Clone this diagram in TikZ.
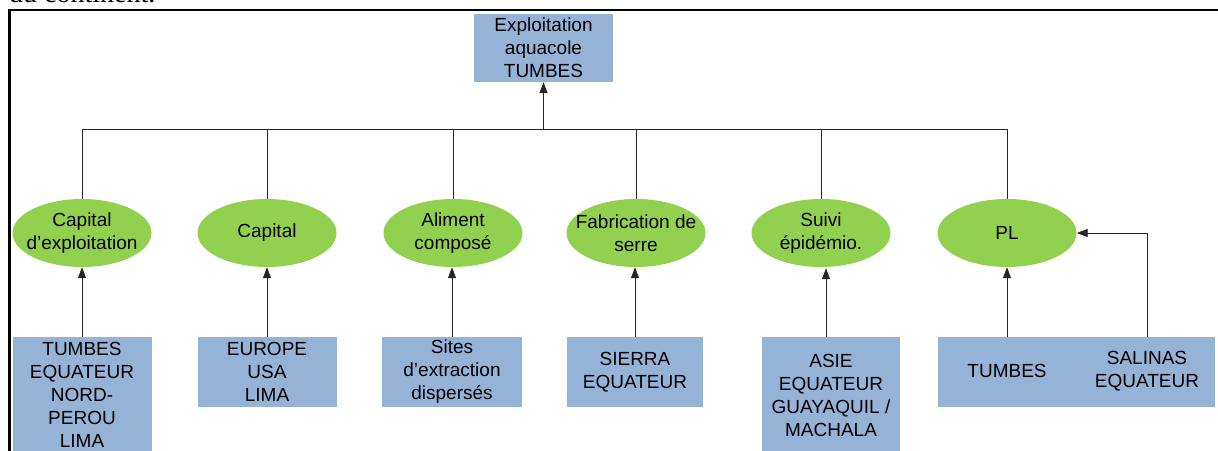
\documentclass[tikz,border=0pt]{standalone}
\usepackage{fontspec}
\setmainfont{Liberation Sans}
\newfontfamily\docserif{Liberation Serif}
\usetikzlibrary{shapes.geometric,arrows.meta}
\definecolor{boxblue}{HTML}{95B3D7}
\definecolor{ellgreen}{HTML}{92D050}
\tikzset{
  bluebox/.style={rectangle, fill=boxblue, inner sep=0pt, align=center,
    font=\fontsize{19}{23}\selectfont},
  greenell/.style={ellipse, fill=ellgreen, inner sep=0pt, minimum width=139pt,
    minimum height=68pt},
  lbl/.style={inner sep=0pt, align=center, font=\fontsize{19}{23}\selectfont},
  conn/.style={draw=black!85, line width=0.9pt},
  arr/.style={conn, -{Triangle[length=11pt,width=8pt]}},
  frame/.style={line width=2.3pt, line cap=rect}
}
\begin{document}
\begin{tikzpicture}[x=1pt,y=-1pt]
\useasboundingbox (0,0) rectangle (1218,450);
% document text cut off at the top
\node[anchor=base west, inner sep=0pt, font=\docserif\fontsize{28}{32}\selectfont] (doc) at (9,2) {du continent.};
% frame
\draw[frame] (9.5,455) -- (9.5,10) -- (1225,10);
% top node
\node[bluebox, minimum width=139pt, minimum height=68pt] (top) at (543.5,48) {Exploitation\\aquacole\\TUMBES};
% ellipses
\node[greenell, label={[lbl]center:Capital\\d’exploitation}] (e1) at (82,233) {};
\node[greenell, label={[lbl]center:Capital}] (e2) at (267,233) {};
\node[greenell, label={[lbl]center:Aliment\\composé}] (e3) at (453,233) {};
\node[greenell, label={[lbl]center:Fabrication de\\serre}] (e4) at (636,233) {};
\node[greenell, label={[lbl]center:Suivi\\épidémio.}] (e5) at (821,233) {};
\node[greenell, label={[lbl]center:PL}] (e6) at (1007,233) {};
% bottom boxes
\node[bluebox, minimum width=139pt, minimum height=116pt] (b1) at (82,395) {TUMBES\\EQUATEUR\\NORD-\\PEROU\\LIMA};
\node[bluebox, minimum width=139pt, minimum height=70pt] (b2) at (267,372) {EUROPE\\USA\\LIMA};
\node[bluebox, minimum width=140pt, minimum height=70pt] (b3) at (452,372) {Sites\\d’extraction\\dispersés};
\node[bluebox, minimum width=136pt, minimum height=70pt] (b4) at (635,372) {SIERRA\\EQUATEUR};
\node[bluebox, minimum width=138pt, minimum height=116pt] (b5) at (831,395) {ASIE\\EQUATEUR\\GUAYAQUIL /\\MACHALA};
\node[bluebox, minimum width=277pt, minimum height=70pt] (b6) at (1076.5,372) {};
\node[lbl] (t6a) at (1007,371) {TUMBES};
\node[lbl] (t6b) at (1147,371) {SALINAS\\EQUATEUR};
% bus
\coordinate (bus) at (544,129);
\draw[conn] (e1.north) -- (e1.north |- bus) -- (e6.north |- bus) -- (e6.north);
\draw[conn] (e2.north) -- (e2.north |- bus);
\draw[conn] (e3.north) -- (e3.north |- bus);
\draw[conn] (e4.north) -- (e4.north |- bus);
\draw[conn] (e5.north) -- (e5.north |- bus);
\draw[arr] (top.south |- bus) -- (top.south);
% arrows from boxes
\draw[arr] (b1.north) -- (e1.south);
\draw[arr] (b2.north) -- (e2.south);
\draw[arr] (b3.north) -- (b3.north |- e3.south);
\draw[arr] (b4.north) -- (b4.north |- e4.south);
\draw[arr] ([xshift=-5pt]b5.north) -- ([xshift=-5pt,yshift=-1pt]b5.north |- e5.south);
\draw[arr] (t6a |- b6.north) -- (e6.south);
\draw[arr] (t6b |- b6.north) |- (e6.east);
\end{tikzpicture}
\end{document}
